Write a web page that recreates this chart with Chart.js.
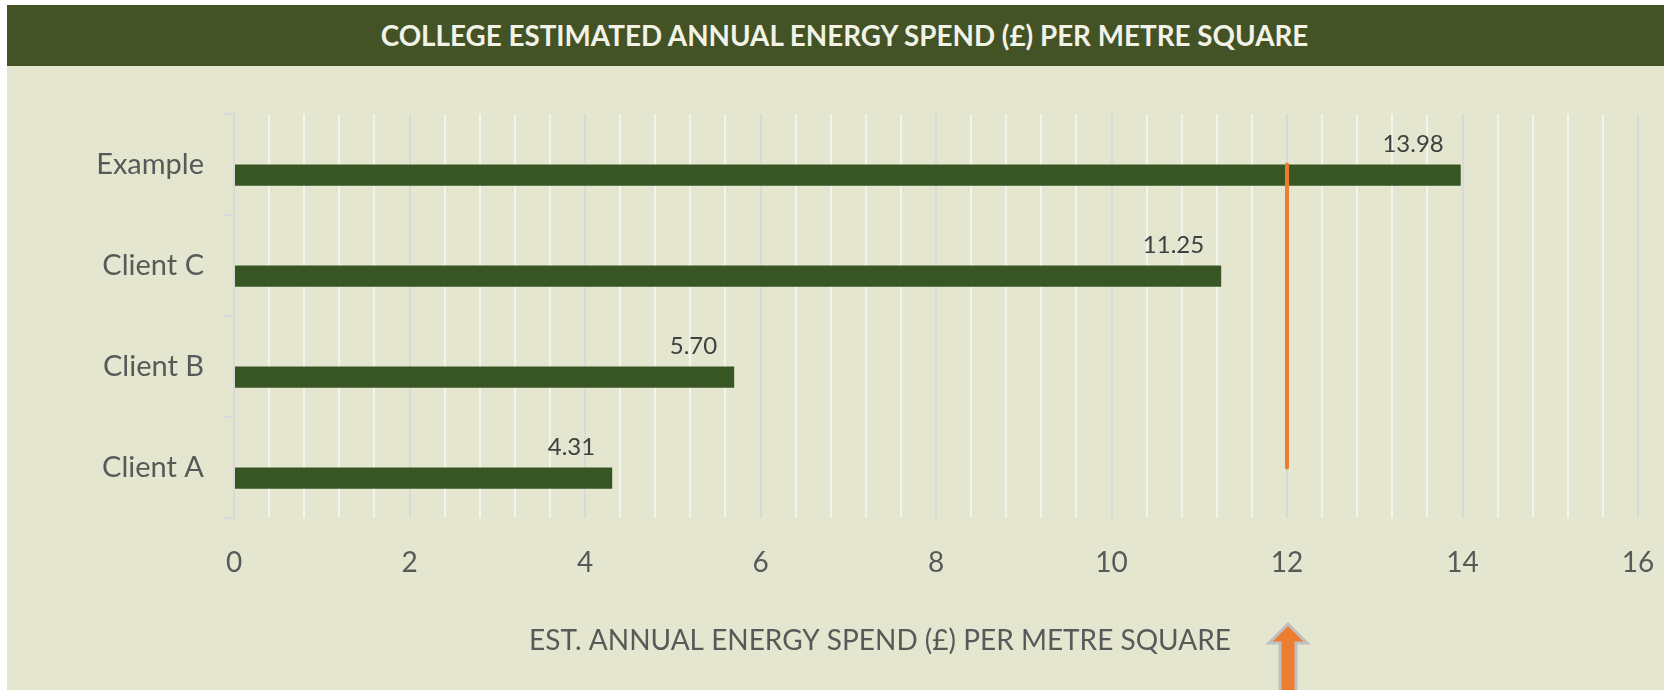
<!DOCTYPE html>
<html>
<head>
<meta charset="utf-8">
<script src="https://cdn.jsdelivr.net/npm/chart.js@4.4.1/dist/chart.umd.min.js"></script>
<style>
  html, body { margin: 0; padding: 0; background: #ffffff; width: 1664px; height: 690px; overflow: hidden; }
  #bg { position: absolute; left: 7px; top: 5px; right: 0; bottom: 0; background: #E4E6CF; }
  #band { position: absolute; left: 7px; top: 5px; right: 0; height: 61px; background: #435326;
          color: #F2F2E6; font-family: Lato, sans-serif; font-weight: bold; font-size: 27.8px;
          display: flex; align-items: center; justify-content: center; letter-spacing: 0px; }
  #band span { position: relative; left: 9px; }
  #wrap { position: absolute; left: 0; top: 0; width: 1664px; height: 690px; }
</style>
</head>
<body>
<div id="bg"></div>
<div id="band"><span>COLLEGE ESTIMATED ANNUAL ENERGY SPEND (£) PER METRE SQUARE</span></div>
<div id="wrap"><canvas id="c" width="1664" height="690"></canvas></div>
<script>
// ---- data ----
const categories = ['Example', 'Client C', 'Client B', 'Client A'];
const spendValues = [13.98, 11.25, 5.70, 4.31];
const spacerValues = [null, null, null, null];
const benchmarkValues = [12, 12, 12, 12];
const xMin = 0;
const xMax = 16;
const majorStep = 2;
const minorStep = 0.4;
const axisTitle = 'EST. ANNUAL ENERGY SPEND (£) PER METRE SQUARE';
const benchmarkValue = 12;

const FONT = 'Lato, sans-serif';
const isMajor = v => Math.abs(v / majorStep - Math.round(v / majorStep)) < 1e-6;

const extrasPlugin = {
  id: 'extras',
  afterDatasetsDraw(chart) {
    const ctx = chart.ctx;
    // data labels
    const meta = chart.getDatasetMeta(2);
    ctx.save();
    ctx.font = '24px ' + FONT;
    ctx.fillStyle = '#404040';
    ctx.textAlign = 'right';
    ctx.textBaseline = 'middle';
    meta.data.forEach((bar, i) => {
      const top = bar.y - bar.height / 2;
      ctx.fillText(spendValues[i].toFixed(2), bar.x - 17, top - 20);
    });
    ctx.restore();
  },
  afterDraw(chart) {
    const ctx = chart.ctx;
    const xs = chart.scales.x;
    // axis title
    ctx.save();
    ctx.font = '28px ' + FONT;
    ctx.fillStyle = '#595959';
    ctx.textAlign = 'center';
    ctx.textBaseline = 'middle';
    ctx.fillText(axisTitle, 880, 641);
    // arrow pointing at benchmark
    const ax = xs.getPixelForValue(benchmarkValue) + 1;
    ctx.beginPath();
    ctx.moveTo(ax, 624);
    ctx.lineTo(ax + 19, 643);
    ctx.lineTo(ax + 8, 643);
    ctx.lineTo(ax + 8, 700);
    ctx.lineTo(ax - 8, 700);
    ctx.lineTo(ax - 8, 643);
    ctx.lineTo(ax - 19, 643);
    ctx.closePath();
    ctx.fillStyle = '#ED7D31';
    ctx.fill();
    ctx.lineWidth = 3;
    ctx.strokeStyle = '#BFBFBF';
    ctx.lineJoin = 'miter';
    ctx.stroke();
    ctx.restore();
  }
};

new Chart(document.getElementById('c'), {
  type: 'bar',
  data: {
    labels: categories,
    datasets: [
      {
        type: 'line',
        indexAxis: 'y',
        data: benchmarkValues,
        borderColor: '#ED7D31',
        borderWidth: 4,
        borderCapStyle: 'round',
        pointRadius: 0,
        fill: false,
        order: 0
      },
      {
        data: spacerValues,
        backgroundColor: 'rgba(0,0,0,0)',
        categoryPercentage: 0.42,
        barPercentage: 1.0,
        order: 1
      },
      {
        data: spendValues,
        backgroundColor: '#375623',
        borderWidth: 0,
        categoryPercentage: 0.42,
        barPercentage: 1.0,
        order: 1
      }
    ]
  },
  options: {
    indexAxis: 'y',
    responsive: false,
    animation: false,
    events: [],
    layout: { padding: { top: 114, right: 26, left: 0, bottom: 0 } },
    plugins: { legend: { display: false }, tooltip: { enabled: false }, title: { display: false } },
    scales: {
      y: {
        afterFit(s) { s.width = 234; s.paddingTop = 0; s.paddingBottom = 0; },
        grid: { display: true, drawOnChartArea: false, drawTicks: true, tickLength: 10, color: '#D9D9D9', lineWidth: 2, offset: true },
        border: { display: true, color: '#D9D9D9', width: 2 },
        ticks: { color: '#595959', font: { family: FONT, size: 29 }, padding: 20 }
      },
      x: {
        min: xMin,
        max: xMax,
        afterFit(s) { s.height = 690 - 518; s.paddingLeft = 0; s.paddingRight = 0; },
        border: { display: false },
        grid: {
          drawTicks: false,
          color: ctx => (ctx.tick && isMajor(ctx.tick.value)) ? '#D9D9D9' : '#F4F4EE',
          lineWidth: 2
        },
        ticks: {
          stepSize: minorStep,
          maxTicksLimit: 100,
          autoSkip: false,
          maxRotation: 0,
          padding: 28,
          color: '#595959',
          font: { family: FONT, size: 28 },
          callback: v => isMajor(v) ? String(Math.round(v)) : ''
        }
      }
    }
  },
  plugins: [extrasPlugin]
});
</script>
</body>
</html>
